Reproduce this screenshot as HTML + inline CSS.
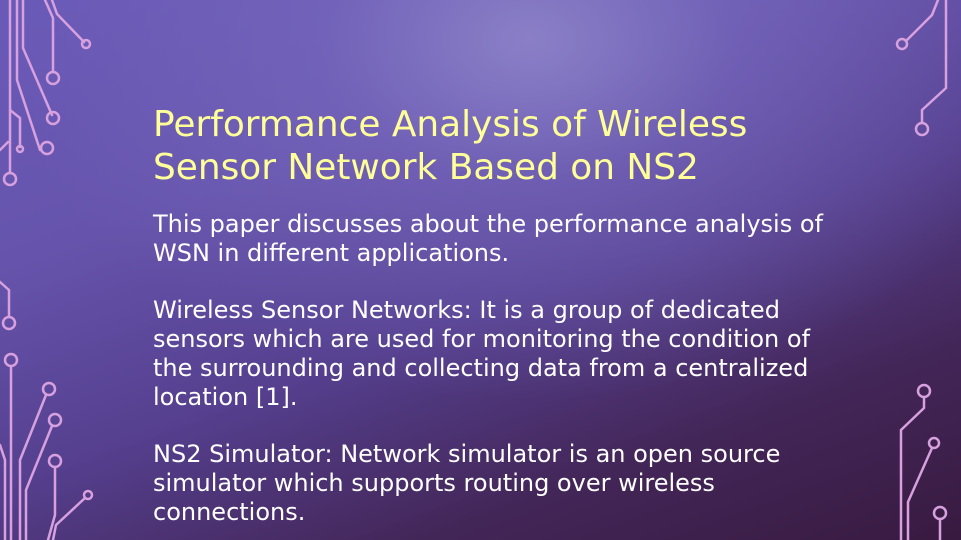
<!DOCTYPE html>
<html><head><style>
html,body{margin:0;padding:0}
body{width:961px;height:540px;overflow:hidden;position:relative;
background:
radial-gradient(ellipse 520px 360px at 530px 40px, rgba(140,130,200,0.95) 0%, rgba(120,105,190,0.6) 40%, rgba(110,90,180,0) 100%),
linear-gradient(160deg,#6a5ab8 0%,#6654ac 30%,#553f8e 55%,#432658 78%,#381a40 100%);
font-family:"DejaVu Sans","Liberation Sans",sans-serif;}
svg{position:absolute;left:0;top:0}
.t{position:absolute;left:153px;top:103px;color:#ffff99;font-size:35.9px;line-height:43px;white-space:nowrap}
.b{position:absolute;left:153px;top:210px;color:#fff;font-size:24px;line-height:28.8px;white-space:nowrap}
</style></head><body>
<svg width="961" height="540" fill="none" stroke="#d7a6e0" stroke-width="2.5" stroke-linecap="round">
<g stroke="#d7a0de">
<path d="M10 0V172"/><path d="M17 0V80L40 150"/><path d="M23 0V48L52 115"/>
<path d="M45 0L53 18V72"/><path d="M52 0L57 14L84 42"/>
<path d="M10 110L20 118V147"/><path d="M0 150L8 142"/>
<circle cx="86" cy="44" r="4"/><circle cx="53" cy="78" r="6"/><circle cx="53" cy="118" r="6"/>
<circle cx="47" cy="148" r="6"/><circle cx="20" cy="149" r="3"/><circle cx="10" cy="179" r="6"/>
<path d="M0 282L9 290V316"/><circle cx="9" cy="323" r="6"/>
<circle cx="11" cy="360" r="6"/><path d="M11 366V540"/>
<path d="M0 445L5 460V540"/>
<circle cx="49" cy="389" r="6"/><path d="M46 395L20 460V540"/>
<circle cx="55" cy="420" r="6"/><path d="M52 426L26 490V540"/>
<circle cx="55" cy="461" r="6"/><path d="M55 467V515L48 540"/>
<circle cx="88" cy="495" r="4"/><path d="M85 498L56 525L53 540"/>
<circle cx="902" cy="44" r="5"/><path d="M906 41L932 15L938 0"/>
<path d="M946 0V88L922 110V122"/><circle cx="922" cy="129" r="6"/>
<circle cx="924" cy="391" r="6"/><path d="M924 397V408L901 430V540"/>
<circle cx="934" cy="443" r="5"/><path d="M932 448L908 502V540"/>
<circle cx="940" cy="513" r="6"/><path d="M940 519V540"/>
</g>
</svg>
<div class="t">Performance Analysis of Wireless<br>Sensor Network Based on NS2</div>
<div class="b">This paper discusses about the performance analysis of<br>WSN in different applications.<br><br>Wireless Sensor Networks: It is a group of dedicated<br>sensors which are used for monitoring the condition of<br>the surrounding and collecting data from a centralized<br>location [1].<br><br>NS2 Simulator: Network simulator is an open source<br>simulator which supports routing over wireless<br>connections.</div>
</body></html>
